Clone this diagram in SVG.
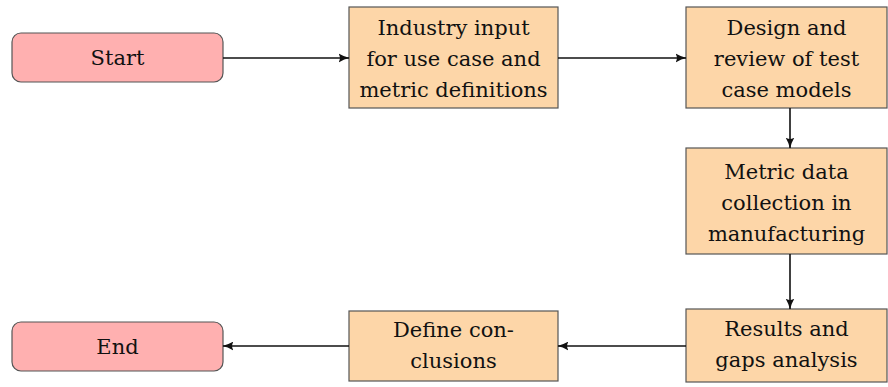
<svg xmlns="http://www.w3.org/2000/svg" width="888" height="387" viewBox="0 0 888 387">
<style>
.term{fill:#ffb0b0;stroke:#555;stroke-width:1.2}
.proc{fill:#fdd6a8;stroke:#555;stroke-width:1.2}
text{font-family:"DejaVu Serif",serif;font-size:21px;fill:#111;text-anchor:middle}
.conn{stroke:#111;stroke-width:1.6;fill:none;marker-end:url(#ah)}
</style>
<defs>
<marker id="ah" viewBox="0 0 10 10" refX="9.5" refY="5" markerWidth="11" markerHeight="11" markerUnits="userSpaceOnUse" orient="auto">
<path d="M0,1 Q5,4 10,5 Q5,6 0,9 Q2.5,5 0,1 Z" fill="#111"/>
</marker>
</defs>
<g id="start"><rect class="term" x="12" y="33" width="211" height="49" rx="9"/><text x="117.5" y="65">Start</text></g>
<g id="industry"><rect class="proc" x="349" y="7" width="209" height="101"/>
<text x="453.5" y="35">Industry input</text><text x="453.5" y="66">for use case and</text><text x="453.5" y="97">metric definitions</text></g>
<g id="design"><rect class="proc" x="686" y="7" width="201" height="101"/>
<text x="786.5" y="35">Design and</text><text x="786.5" y="66">review of test</text><text x="786.5" y="97">case models</text></g>
<g id="metric"><rect class="proc" x="686" y="148" width="201" height="106"/>
<text x="786.5" y="179">Metric data</text><text x="786.5" y="210">collection in</text><text x="786.5" y="241">manufacturing</text></g>
<g id="results"><rect class="proc" x="686" y="309" width="201" height="73"/>
<text x="786.5" y="336">Results and</text><text x="786.5" y="367">gaps analysis</text></g>
<g id="define"><rect class="proc" x="349" y="311" width="209" height="70"/>
<text x="453.5" y="337">Define con-</text><text x="453.5" y="368">clusions</text></g>
<g id="end"><rect class="term" x="12" y="322" width="211" height="49" rx="9"/><text x="117.5" y="354">End</text></g>
<g id="connectors">
<path class="conn" d="M223,58 H349"/>
<path class="conn" d="M558,58 H686"/>
<path class="conn" d="M790,108 V148"/>
<path class="conn" d="M790,254 V309"/>
<path class="conn" d="M686,346 H558"/>
<path class="conn" d="M349,346 H223"/>
</g>
</svg>
